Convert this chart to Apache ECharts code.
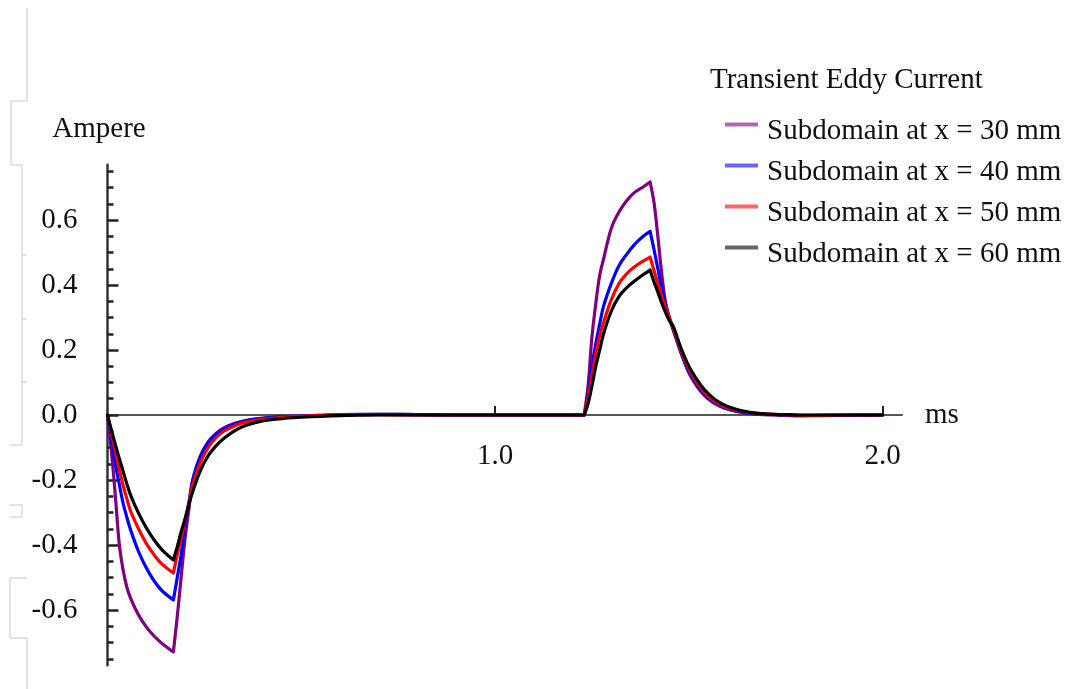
<!DOCTYPE html>
<html><head><meta charset="utf-8">
<script src="https://cdn.jsdelivr.net/npm/echarts@6/dist/echarts.min.js"></script>
<style>html,body{margin:0;padding:0;background:#fff}#c{width:1073px;height:689px}</style>
</head><body><div id="c"></div>
<script>
// time (ms)
const times = [0,0.01,0.02,0.03,0.04,0.05,0.06,0.08,0.10,0.12,0.14,0.17,
  0.18,0.19,0.20,0.21,0.22,0.24,0.26,0.28,0.30,0.33,0.36,0.40,0.45,0.50,0.55,0.60,
  0.70,0.80,0.90,1.00,1.10,1.23,
  1.24,1.25,1.26,1.27,1.28,1.30,1.32,1.34,1.36,1.38,1.40,
  1.41,1.42,1.43,1.44,1.45,1.46,1.48,1.50,1.52,1.54,1.56,1.58,1.60,1.64,1.68,1.72,1.76,1.80,1.85,1.90,1.95,2.00];
// Ampere
const sub30 = [0,-0.11,-0.245,-0.393,-0.475,-0.53,-0.565,-0.615,-0.652,-0.68,-0.702,-0.729,
  -0.62,-0.50,-0.38,-0.29,-0.20,-0.125,-0.082,-0.057,-0.04,-0.025,-0.016,-0.01,-0.005,-0.003,-0.001,0,
  0.002,0.001,0,0,0,0,
  0.09,0.24,0.344,0.43,0.48,0.575,0.625,0.66,0.685,0.70,0.717,
  0.655,0.55,0.435,0.345,0.297,0.26,0.19,0.13,0.09,0.06,0.04,0.027,0.018,0.007,0.002,0,-0.002,-0.002,-0.002,-0.001,-0.001,0];
const sub40 = [0,-0.075,-0.15,-0.21,-0.27,-0.315,-0.355,-0.42,-0.47,-0.51,-0.54,-0.569,
  -0.50,-0.43,-0.34,-0.27,-0.20,-0.128,-0.085,-0.06,-0.043,-0.027,-0.017,-0.01,-0.006,-0.003,-0.001,0.001,
  0.002,0.001,0,0,0,0,
  0.06,0.15,0.22,0.28,0.335,0.405,0.46,0.495,0.525,0.548,0.565,
  0.51,0.45,0.39,0.34,0.298,0.264,0.193,0.135,0.094,0.064,0.043,0.029,0.019,0.008,0.003,0.001,-0.001,-0.002,-0.001,-0.001,0,0];
const sub50 = [0,-0.055,-0.11,-0.165,-0.215,-0.258,-0.297,-0.35,-0.395,-0.43,-0.458,-0.486,
  -0.43,-0.38,-0.325,-0.27,-0.215,-0.145,-0.10,-0.07,-0.05,-0.032,-0.021,-0.013,-0.007,-0.004,-0.002,0,
  0.001,0,0,0,0,0,
  0.05,0.12,0.19,0.245,0.285,0.355,0.405,0.435,0.456,0.472,0.486,
  0.445,0.405,0.365,0.33,0.298,0.267,0.198,0.142,0.101,0.07,0.048,0.033,0.022,0.01,0.004,0.002,0,-0.001,-0.001,0,0,0];
const sub60 = [0,-0.046,-0.09,-0.132,-0.172,-0.212,-0.248,-0.302,-0.347,-0.384,-0.414,-0.446,
  -0.405,-0.36,-0.32,-0.275,-0.235,-0.17,-0.125,-0.095,-0.072,-0.047,-0.031,-0.018,-0.011,-0.007,-0.004,-0.002,
  0,0,0,0,0,0,
  0.035,0.09,0.15,0.20,0.25,0.32,0.365,0.392,0.412,0.43,0.446,
  0.41,0.378,0.345,0.315,0.29,0.272,0.205,0.15,0.11,0.078,0.055,0.038,0.026,0.012,0.005,0.002,0.001,0,0,0,0,0];
// times where the excitation switches (sharp corners in the curves)
const switchTimes = [0.17, 1.23, 1.40];
const seriesNames = ['Subdomain at x = 30 mm','Subdomain at x = 40 mm','Subdomain at x = 50 mm','Subdomain at x = 60 mm'];
const yMajorTicks = [-0.6,-0.4,-0.2,0,0.2,0.4,0.6];
const yMinorTicks = [-0.75,-0.7,-0.65,-0.55,-0.5,-0.45,-0.35,-0.3,-0.25,-0.15,-0.1,-0.05,0.05,0.1,0.15,0.25,0.3,0.35,0.45,0.5,0.55,0.65,0.7,0.75];
const xTicks = [1.0, 2.0];
const legendTitle = 'Transient Eddy Current';
const yName = 'Ampere';
const xName = 'ms';

const FONT = "'Liberation Serif', 'Times New Roman', serif";
const colors = ['#800080','#0000ff','#ff0000','#000000'];
const allSeries = [sub30, sub40, sub50, sub60];

const Y_MIN = -0.77, Y_MAX = 0.77;
const GRID_TOP = 164.75, GRID_BOTTOM = 23.75, H = 689;
const plotH = H - GRID_TOP - GRID_BOTTOM;
// shift the x axis from the grid bottom up to the y = 0 level
const xAxisOffset = -plotH * (0 - Y_MIN) / (Y_MAX - Y_MIN);

// build [t, v] pairs; break the (smoothed) line at switching instants so corners stay sharp
function buildData(vals){
  const out = [];
  times.forEach((t,k)=>{
    out.push([t, vals[k]]);
    if (switchTimes.includes(t)) { out.push([t, '-']); out.push([t, vals[k]]); }
  });
  return out;
}

const chart = echarts.init(document.getElementById('c'), null, {renderer:'canvas'});
const gray = '#c8c8c8';
function seg(points){ return {type:'polyline', silent:true, shape:{points}, style:{stroke:gray, lineWidth:1, fill:null}}; }

chart.setOption({
  animation:false,
  backgroundColor:'#fff',
  textStyle:{fontFamily:FONT},
  title:{text:legendTitle, left:710, top:64.5, padding:0,
    textStyle:{fontFamily:FONT, fontSize:29, fontWeight:'normal', color:'#111', lineHeight:31}},
  legend:{orient:'vertical', left:725, top:116, padding:0,
    icon:'path://M0,0H33V4H0Z M0,17.99H0.01V18H0Z',
    itemWidth:33, itemHeight:18, itemGap:10,
    itemStyle:{opacity:0.6},
    textStyle:{fontFamily:FONT, fontSize:29, color:'#111', lineHeight:31, padding:[0,0,0,4]},
    data:seriesNames},
  grid:{left:107.5, right:171, top:GRID_TOP, bottom:GRID_BOTTOM, containLabel:false, outerBoundsMode:'none'},
  xAxis:{type:'value', min:0, max:2.05, position:'bottom', offset:xAxisOffset,
    name:xName, nameLocation:'end', nameGap:23,
    nameTextStyle:{fontFamily:FONT, fontSize:29, color:'#111', padding:[0,0,8,0]},
    axisLine:{onZero:false, lineStyle:{color:'#555', width:2}},
    axisTick:{show:true, inside:true, length:9, customValues:xTicks, lineStyle:{color:'#222', width:2}},
    axisLabel:{customValues:xTicks, margin:26, fontFamily:FONT, fontSize:29, color:'#111', lineHeight:31,
      formatter:(v)=>Number(v).toFixed(1)},
    splitLine:{show:false}},
  yAxis:[{type:'value', min:Y_MIN, max:Y_MAX, position:'left',
    name:yName, nameLocation:'end', nameGap:20,
    nameTextStyle:{fontFamily:FONT, fontSize:29, color:'#111', lineHeight:31, padding:[0,17,0,0]},
    axisLine:{show:true, onZero:false, lineStyle:{color:'#333', width:2.5}},
    axisTick:{show:true, inside:true, length:11, customValues:yMajorTicks, lineStyle:{color:'#222', width:2.5}},
    axisLabel:{customValues:yMajorTicks, margin:30, fontFamily:FONT, fontSize:29, color:'#111',
      formatter:(v)=>Number(v).toFixed(1)},
    splitLine:{show:false}},
   {type:'value', min:Y_MIN, max:Y_MAX, position:'left',
    axisLine:{show:false, onZero:false},
    axisTick:{show:true, inside:true, length:6, customValues:yMinorTicks, lineStyle:{color:'#222', width:2.5}},
    axisLabel:{show:false}, splitLine:{show:false}}],
  series: allSeries.map((vals,i)=>({
    name:seriesNames[i], type:'line', yAxisIndex:0,
    data: buildData(vals), connectNulls:false,
    showSymbol:false, smooth:0.35,
    lineStyle:{color:colors[i], width:3.2, cap:'round', join:'round'}, itemStyle:{color:colors[i]}
  })),
  graphic:[
    seg([[27,8],[27,101],[11,101],[11,165],[22,165],[22,445],[10,445]]),
    seg([[22,255],[27,255]]), seg([[22,319],[27,319]]), seg([[22,382],[27,382]]),
    seg([[10,505],[22,505],[22,517],[10,517]]),
    seg([[27,578],[10,578],[10,638],[27,638],[27,689]])
  ]
});
</script></body></html>
